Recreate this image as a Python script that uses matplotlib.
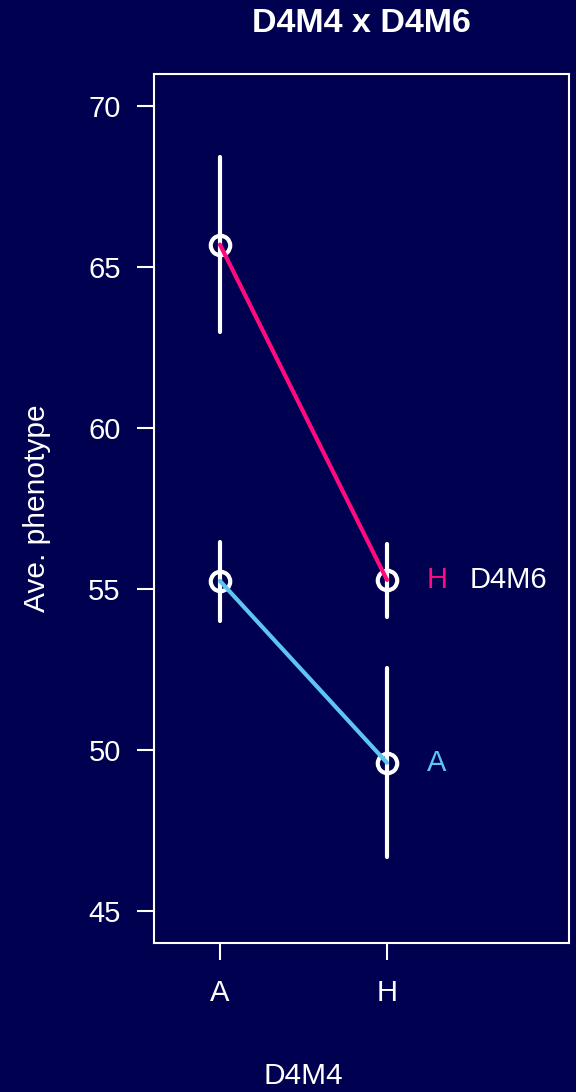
import matplotlib.pyplot as plt

# genotype groups on the x axis (D4M4) and the traced genotype (D4M6)
x_groups = ["A", "H"]
trace_groups = ["H", "A"]

# mean phenotype and error-bar limits for each D4M6 genotype
means_H = [65.7, 55.28]
lower_H = [62.98, 54.13]
upper_H = [68.42, 56.40]

means_A = [55.25, 49.60]
lower_A = [54.0, 46.68]
upper_A = [56.46, 52.55]

yticks = [45, 50, 55, 60, 65, 70]

bg = "#000050"
fg = "white"
colors = {"H": "#ff0a7f", "A": "#5ec4f2"}

plt.rcParams["font.family"] = ["Liberation Sans", "DejaVu Sans"]

fig = plt.figure(figsize=(5.76, 10.92), dpi=100, facecolor=bg)
ax = fig.add_axes([154 / 576, 1 - 943 / 1092, (569 - 154) / 576, (943 - 74) / 1092])
ax.set_facecolor(bg)

xs = list(range(1, len(x_groups) + 1))
series = {"H": (means_H, lower_H, upper_H), "A": (means_A, lower_A, upper_A)}

for name in trace_groups:
    m, lo, hi = series[name]
    ax.vlines(xs, lo, hi, color=fg, lw=3, capstyle="round", zorder=2)
    ax.plot(xs, m, "o", ms=14, mfc="none", mec=fg, mew=3, zorder=3)
    ax.plot(xs, m, "-", color=colors[name], lw=3, solid_capstyle="round", zorder=4)
    ax.text(xs[-1] + 0.3, m[-1], name, color=colors[name], fontsize=21,
            ha="center", va="center")

# name of the traced marker beside the top label
ax.text(xs[-1] + 0.725, means_H[-1], "D4M6", color=fg, fontsize=21,
        ha="center", va="center")

ax.set_xlim(0.605, 3.09)
ax.set_ylim(44.0, 71.0)
ax.set_xticks(xs)
ax.set_xticklabels(x_groups)
ax.set_yticks(yticks)

for s in ax.spines.values():
    s.set_color(fg)
    s.set_linewidth(1.5)

ax.tick_params(colors=fg, labelsize=21, width=1.5, length=12)
ax.tick_params(axis="y", pad=12)
ax.tick_params(axis="x", pad=14)

fig.text(37 / 576, 1 - 508 / 1092, "Ave. phenotype", color=fg, fontsize=21.5,
         rotation=90, ha="center", va="center")
fig.text(303 / 576, 1 - 1076 / 1092, "D4M4", color=fg, fontsize=21.5,
         ha="center", va="center")
fig.text(361 / 576, 1 - 23 / 1092, "D4M4 x D4M6", color=fg, fontsize=24.5,
         fontweight="bold", ha="center", va="center")

fig.savefig("out.png", dpi=100, facecolor=bg)
